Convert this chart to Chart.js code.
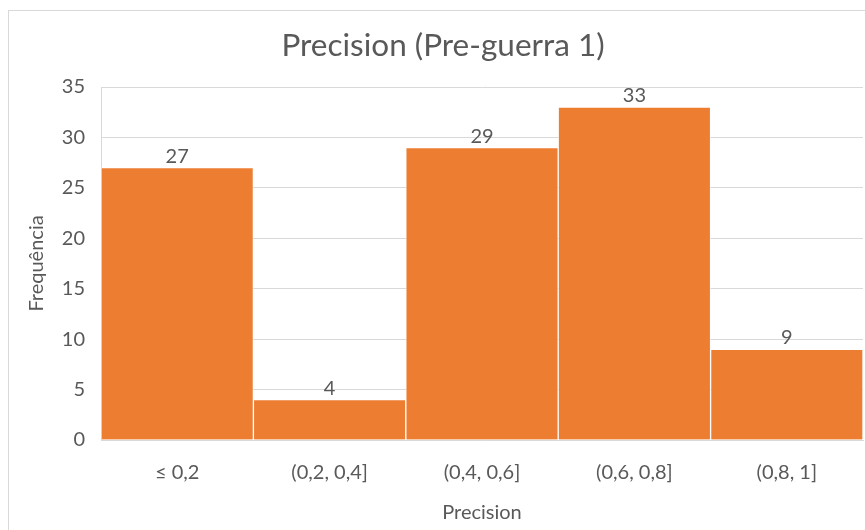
<!DOCTYPE html>
<html>
<head>
<meta charset="utf-8">
<script src="https://cdn.jsdelivr.net/npm/chart.js@4/dist/chart.umd.min.js"></script>
<style>
  html, body { margin: 0; padding: 0; background: #ffffff; }
  canvas { display: block; }
</style>
</head>
<body>
<canvas id="chart" width="865" height="530"></canvas>
<script>
// Histogram bins and frequencies
const categories = ['≤ 0,2', '(0,2, 0,4]', '(0,4, 0,6]', '(0,6, 0,8]', '(0,8, 1]'];
const frequencies = [27, 4, 29, 33, 9];
const yTicks = [0, 5, 10, 15, 20, 25, 30, 35];
const chartTitle = 'Precision (Pre-guerra 1)';

const FONT = 'Lato, "Open Sans", sans-serif';
const TEXT = '#595959';
const GRID = '#d9d9d9';

// Light frame around the whole chart area, plus the centred chart title
const framePlugin = {
  id: 'frame',
  beforeDraw(chart) {
    const ctx = chart.ctx;
    ctx.save();
    ctx.strokeStyle = GRID;
    ctx.lineWidth = 1;
    ctx.strokeRect(8.5, 10.5, chart.width + 10, chart.height + 10);
    ctx.font = '31.5px ' + FONT;
    ctx.fillStyle = TEXT;
    ctx.textAlign = 'center';
    ctx.textBaseline = 'alphabetic';
    ctx.fillText(chartTitle, 443, 56);
    ctx.restore();
  }
};

// Value labels above each bar
const valueLabels = {
  id: 'valueLabels',
  afterDatasetsDraw(chart) {
    const ctx = chart.ctx;
    const meta = chart.getDatasetMeta(0);
    ctx.save();
    ctx.font = '20px ' + FONT;
    ctx.fillStyle = TEXT;
    ctx.textAlign = 'center';
    ctx.textBaseline = 'alphabetic';
    meta.data.forEach((bar, i) => {
      ctx.fillText(String(frequencies[i]), bar.x, bar.y - 5);
    });
    ctx.restore();
  }
};

new Chart(document.getElementById('chart'), {
  type: 'bar',
  data: {
    labels: categories,
    datasets: [{
      data: frequencies,
      backgroundColor: '#ED7D31',
      borderColor: 'rgba(255,255,255,0.55)',
      borderWidth: 1,
      categoryPercentage: 1.0,
      barPercentage: 1.0
    }]
  },
  options: {
    responsive: false,
    animation: false,
    devicePixelRatio: 1,
    layout: { padding: { left: 0, right: 2, top: 87, bottom: 0 } },
    plugins: {
      legend: { display: false },
      tooltip: { enabled: false },
      title: { display: false }
    },
    scales: {
      x: {
        grid: { display: false, drawTicks: false },
        border: { display: true, color: GRID, width: 1 },
        ticks: {
          color: TEXT,
          font: { family: FONT, size: 20 },
          padding: 21,
          maxRotation: 0
        },
        title: {
          display: true,
          text: 'Precision',
          color: TEXT,
          font: { family: FONT, size: 20 },
          padding: { top: 0, bottom: 5 }
        },
        afterFit(scale) { scale.height = 90; }
      },
      y: {
        min: 0,
        max: 35,
        afterBuildTicks(scale) { scale.ticks = yTicks.map(v => ({ value: v })); },
        grid: { color: GRID, drawTicks: false, lineWidth: 1 },
        border: { display: true, color: GRID, width: 1 },
        ticks: {
          color: TEXT,
          font: { family: FONT, size: 20 },
          padding: 16
        },
        title: {
          display: true,
          text: 'Frequência',
          color: TEXT,
          font: { family: FONT, size: 20 },
          padding: { top: 25, bottom: 0 }
        },
        afterFit(scale) { scale.width = 101; }
      }
    }
  },
  plugins: [framePlugin, valueLabels]
});
</script>
</body>
</html>
